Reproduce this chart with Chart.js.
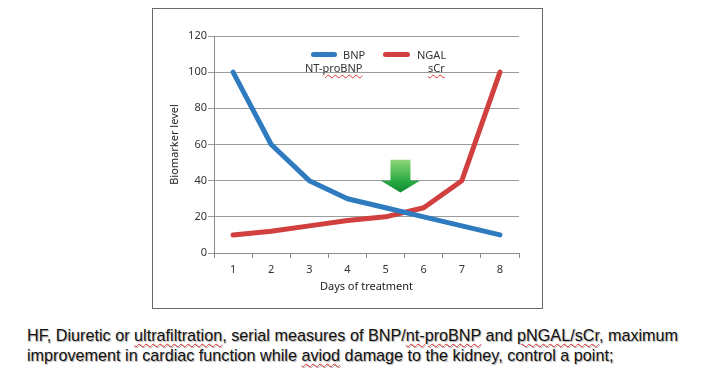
<!DOCTYPE html>
<html>
<head>
<meta charset="utf-8">
<script src="https://cdn.jsdelivr.net/npm/chart.js@4.4.1/dist/chart.umd.min.js"></script>
<style>
  body { margin: 0; background: #fff; width: 714px; height: 374px; position: relative; overflow: hidden; }
  #box { position: absolute; left: 152px; top: 8px; width: 389px; height: 299px; border: 1px solid #6a6a6a; }
  #chart { position: absolute; left: 0; top: 0; }
  .leg { position: absolute; font: 11px "Noto Sans", sans-serif; color: #333; white-space: nowrap; line-height: 13px; }
  .sw { position: absolute; height: 5px; border-radius: 3px; }
  .sp { text-decoration: underline wavy #e03030; text-decoration-thickness: 1px; text-underline-offset: 2px; }
  #caption { position: absolute; left: 27px; top: 325px; font: 16.2px "Liberation Sans", Arial, sans-serif; line-height: 20px; color: #111; text-shadow: 1px 1px 1px #aaa; white-space: nowrap; }
</style>
</head>
<body>
<div id="box">
  <canvas id="chart" width="389" height="299"></canvas>
</div>
<div class="sw" style="left:311px; top:52px; width:26px; background:#2f7bbf"></div>
<div class="leg" style="left:343px; top:48px">BNP</div>
<div class="sw" style="left:383px; top:52px; width:27px; background:#d13f3f"></div>
<div class="leg" style="left:417px; top:48px">NGAL</div>
<div class="leg" style="left:305px; top:61px">NT-<span class="sp">proBNP</span></div>
<div class="leg" style="left:428px; top:61px"><span class="sp">sCr</span></div>
<div id="caption">HF, Diuretic or <span class="sp">ultrafiltration</span>, serial measures of BNP/<span class="sp">nt-proBNP</span> and <span class="sp">pNGAL/sCr</span>, maximum<br>improvement in cardiac function while <span class="sp">aviod</span> damage to the kidney, control a point;</div>
<script>
const days = ['1', '2', '3', '4', '5', '6', '7', '8'];
const bnp = [100, 60, 40, 30, 25, 20, 15, 10];
const ngal = [10, 12, 15, 18, 20, 25, 40, 100];
const yTicks = [0, 20, 40, 60, 80, 100, 120];

// green arrow marking the crossing point (data units)
const arrowDay = 4.39;   // category index
const arrowTop = 51.5;
const arrowNeck = 40;
const arrowTip = 33.5;

const arrowPlugin = {
  id: 'arrow',
  afterDatasetsDraw(chart) {
    const { ctx, scales: { x, y } } = chart;
    const cx = x.getPixelForValue(arrowDay);
    const top = y.getPixelForValue(arrowTop);
    const neck = y.getPixelForValue(arrowNeck);
    const tip = y.getPixelForValue(arrowTip);
    const g = ctx.createLinearGradient(0, top, 0, tip);
    g.addColorStop(0, '#8fd67a');
    g.addColorStop(0.6, '#2fae45');
    g.addColorStop(1, '#0e8a32');
    ctx.save();
    ctx.fillStyle = g;
    ctx.beginPath();
    ctx.moveTo(cx - 10, top);
    ctx.lineTo(cx + 10, top);
    ctx.lineTo(cx + 10, neck);
    ctx.lineTo(cx + 19.5, neck);
    ctx.lineTo(cx, tip);
    ctx.lineTo(cx - 19.5, neck);
    ctx.lineTo(cx - 10, neck);
    ctx.closePath();
    ctx.fill();
    ctx.restore();
  }
};

const font = { family: '"Noto Sans", sans-serif', size: 11 };

new Chart(document.getElementById('chart'), {
  type: 'line',
  data: {
    labels: days,
    datasets: [
      { label: 'BNP', data: bnp, borderColor: '#2f7bbf', borderWidth: 5, pointRadius: 0, borderJoinStyle: 'round', borderCapStyle: 'round' },
      { label: 'NGAL', data: ngal, borderColor: '#d13f3f', borderWidth: 5, pointRadius: 0, borderJoinStyle: 'round', borderCapStyle: 'round' }
    ]
  },
  options: {
    responsive: false,
    animation: false,
    layout: { padding: { left: 0, right: 23, top: 27, bottom: 0 } },
    plugins: { legend: { display: false }, tooltip: { enabled: false } },
    scales: {
      x: {
        offset: true,
        grid: { offset: true, drawOnChartArea: false, drawTicks: true, tickLength: 5, color: '#8a8a8a' },
        border: { color: '#8a8a8a' },
        ticks: { color: '#333', font, padding: 5 },
        title: { display: true, text: 'Days of treatment', color: '#222', font, padding: { top: 0, bottom: 15 } },
        afterFit(s) { s.height = 55; }
      },
      y: {
        min: 0, max: 120,
        afterBuildTicks(s) { s.ticks = yTicks.map(v => ({ value: v })); },
        grid: { color: '#9a9a9a', tickLength: 6 },
        border: { color: '#8a8a8a' },
        ticks: { color: '#333', font, padding: 1 },
        title: { display: true, text: 'Biomarker level', color: '#222', font, padding: { top: 15, bottom: 0 } },
        afterFit(s) { s.width = 61; }
      }
    }
  },
  plugins: [arrowPlugin]
});
</script>
</body>
</html>
